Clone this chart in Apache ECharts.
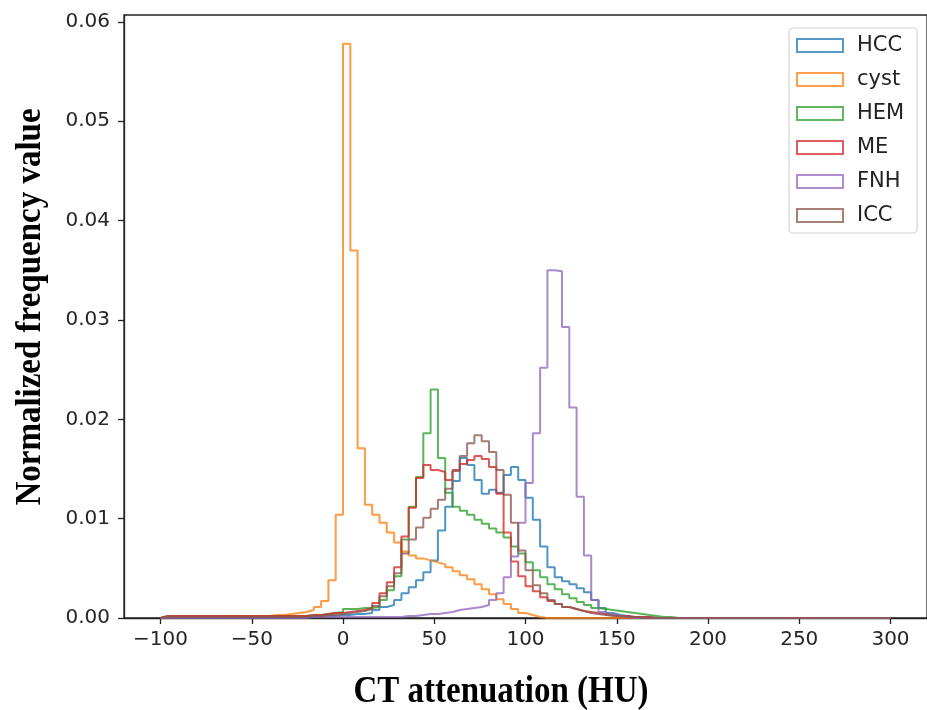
<!DOCTYPE html>
<html>
<head>
<meta charset="utf-8">
<script src="https://cdn.jsdelivr.net/npm/echarts@6/dist/echarts.min.js"></script>
<style>
  html, body { margin: 0; padding: 0; background: #fff; }
  #chart { width: 927px; height: 710px; }
</style>
</head>
<body>
<div id="chart"></div>
<script>
// histogram bins: 100 bins of 4 HU from -100 to 300
const binStart = -100
const binWidth = 4

const seriesNames = ['HCC', 'cyst', 'HEM', 'ME', 'FNH', 'ICC']
const seriesColors = ['#1f77b4', '#ff7f0e', '#2ca02c', '#d62728', '#9467bd', '#8c564b']

const hccValues = [
  0.0001, 0.0001, 0.0001, 0.0001, 0.0001, 0.0001, 0.0001, 0.0001, 0.0001, 0.0001,
  0.0001, 0.0001, 0.0001, 0.0001, 0.0001, 0.0001, 0.0001, 0.0001, 0.0001, 0.0001,
  0.0001, 0.0002, 0.0002, 0.0002, 0.0003, 0.0003, 0.0004, 0.0004, 0.0005, 0.0008,
  0.0011, 0.0013, 0.0018, 0.0025, 0.0031, 0.0038, 0.0046, 0.0058, 0.0088, 0.0112,
  0.0138, 0.0161, 0.0154, 0.0139, 0.0125, 0.0129, 0.0126, 0.0144, 0.0152, 0.0139,
  0.0121, 0.0099, 0.0072, 0.0051, 0.0041, 0.0037, 0.0034, 0.0030, 0.0026, 0.0018,
  0.0010, 0.0005, 0.0003, 0.0002, 0.0001, 0.0001, 0.0001, 0, 0, 0,
  0, 0, 0, 0, 0, 0, 0, 0, 0, 0,
  0, 0, 0, 0, 0, 0, 0, 0, 0, 0,
  0, 0, 0, 0, 0, 0, 0, 0, 0, 0
]
const cystValues = [
  0.0001, 0.0001, 0.0001, 0.0001, 0.0001, 0.0001, 0.0001, 0.0001, 0.0001, 0.0001,
  0.0002, 0.0002, 0.0002, 0.0002, 0.0002, 0.0003, 0.0003, 0.0004, 0.0005, 0.0006,
  0.0008, 0.0011, 0.0017, 0.0038, 0.0104, 0.0578, 0.0370, 0.0171, 0.0114, 0.0104,
  0.0096, 0.0086, 0.0076, 0.0067, 0.0063, 0.0060, 0.0058, 0.0056, 0.0054, 0.0051,
  0.0047, 0.0043, 0.0039, 0.0034, 0.0029, 0.0024, 0.0019, 0.0014, 0.0009, 0.0005,
  0.0003, 0.0001, 0, 0, 0, 0, 0, 0, 0, 0,
  0, 0, 0, 0, 0, 0, 0, 0, 0, 0,
  0, 0, 0, 0, 0, 0, 0, 0, 0, 0,
  0, 0, 0, 0, 0, 0, 0, 0, 0, 0,
  0, 0, 0, 0, 0, 0, 0, 0, 0, 0
]
const hemValues = [
  0.0002, 0.0002, 0.0002, 0.0002, 0.0002, 0.0002, 0.0002, 0.0002, 0.0002, 0.0002,
  0.0002, 0.0002, 0.0002, 0.0002, 0.0002, 0.0002, 0.0002, 0.0002, 0.0002, 0.0002,
  0.0003, 0.0003, 0.0004, 0.0005, 0.0006, 0.0009, 0.0009, 0.0010, 0.0010, 0.0011,
  0.0018, 0.0028, 0.0042, 0.0079, 0.0112, 0.0142, 0.0186, 0.0230, 0.0161, 0.0126,
  0.0112, 0.0108, 0.0104, 0.0099, 0.0095, 0.0090, 0.0086, 0.0081, 0.0072, 0.0065,
  0.0056, 0.0048, 0.0041, 0.0034, 0.0029, 0.0024, 0.0020, 0.0016, 0.0013, 0.0010,
  0.0009, 0.0008, 0.0007, 0.0006, 0.0005, 0.0004, 0.0003, 0.0002, 0.0001, 0.0001,
  0, 0, 0, 0, 0, 0, 0, 0, 0, 0,
  0, 0, 0, 0, 0, 0, 0, 0, 0, 0,
  0, 0, 0, 0, 0, 0, 0, 0, 0, 0
]
const meValues = [
  0.0002, 0.0002, 0.0002, 0.0002, 0.0002, 0.0002, 0.0002, 0.0002, 0.0002, 0.0002,
  0.0002, 0.0002, 0.0002, 0.0002, 0.0002, 0.0002, 0.0002, 0.0002, 0.0002, 0.0002,
  0.0003, 0.0003, 0.0004, 0.0005, 0.0005, 0.0006, 0.0007, 0.0008, 0.0010, 0.0015,
  0.0025, 0.0036, 0.0051, 0.0082, 0.0111, 0.0141, 0.0154, 0.0149, 0.0147, 0.0139,
  0.0149, 0.0155, 0.0159, 0.0163, 0.0160, 0.0152, 0.0125, 0.0086, 0.0057, 0.0042,
  0.0032, 0.0027, 0.0021, 0.0017, 0.0014, 0.0011, 0.0009, 0.0007, 0.0006, 0.0005,
  0.0004, 0.0003, 0.0002, 0.0002, 0.0001, 0.0001, 0.0001, 0, 0, 0,
  0, 0, 0, 0, 0, 0, 0, 0, 0, 0,
  0, 0, 0, 0, 0, 0, 0, 0, 0, 0,
  0, 0, 0, 0, 0, 0, 0, 0, 0, 0
]
const fnhValues = [
  0, 0, 0, 0, 0, 0, 0, 0, 0, 0,
  0, 0, 0, 0, 0, 0, 0, 0, 0, 0,
  0.0001, 0.0001, 0.0001, 0.0001, 0.0001, 0.0001, 0.0001, 0.0001, 0.0001, 0.0001,
  0.0001, 0.0001, 0.0001, 0.0002, 0.0002, 0.0003, 0.0004, 0.0004, 0.0005, 0.0006,
  0.0008, 0.0009, 0.0010, 0.0011, 0.0013, 0.0018, 0.0025, 0.0041, 0.0062, 0.0096,
  0.0136, 0.0186, 0.0252, 0.0350, 0.0349, 0.0293, 0.0212, 0.0122, 0.0063, 0.0018,
  0.0006, 0.0003, 0.0002, 0.0001, 0, 0, 0, 0, 0, 0,
  0, 0, 0, 0, 0, 0, 0, 0, 0, 0,
  0, 0, 0, 0, 0, 0, 0, 0, 0, 0,
  0, 0, 0, 0, 0, 0, 0, 0, 0, 0
]
const iccValues = [
  0.0001, 0.0001, 0.0001, 0.0001, 0.0001, 0.0001, 0.0001, 0.0001, 0.0001, 0.0001,
  0.0001, 0.0001, 0.0001, 0.0001, 0.0001, 0.0001, 0.0001, 0.0001, 0.0001, 0.0001,
  0.0002, 0.0002, 0.0003, 0.0003, 0.0004, 0.0005, 0.0006, 0.0007, 0.0009, 0.0012,
  0.0022, 0.0032, 0.0045, 0.0065, 0.0079, 0.0091, 0.0101, 0.0110, 0.0119, 0.0130,
  0.0148, 0.0163, 0.0176, 0.0184, 0.0178, 0.0167, 0.0149, 0.0124, 0.0096, 0.0068,
  0.0048, 0.0033, 0.0025, 0.0018, 0.0014, 0.0011, 0.0009, 0.0007, 0.0005, 0.0004,
  0.0003, 0.0002, 0.0002, 0.0001, 0.0001, 0, 0, 0, 0, 0,
  0, 0, 0, 0, 0, 0, 0, 0, 0, 0,
  0, 0, 0, 0, 0, 0, 0, 0, 0, 0,
  0, 0, 0, 0, 0, 0, 0, 0, 0, 0
]
const allValues = [hccValues, cystValues, hemValues, meValues, fnhValues, iccValues]

const xTicks = [-100, -50, 0, 50, 100, 150, 200, 250, 300]
const yTicks = [0, 0.01, 0.02, 0.03, 0.04, 0.05, 0.06]

// outline of a step histogram: [left edge, value] for each bin, closed down to 0 at both ends
function stepData(values) {
  const pts = [[binStart, 0]]
  values.forEach((v, i) => {
    pts.push([binStart + i * binWidth, v])
  })
  pts.push([binStart + values.length * binWidth, 0])
  return pts
}

const tickFont = { fontFamily: 'DejaVu Sans', fontSize: 20, color: '#262626' }

const option = {
  animation: false,
  backgroundColor: '#fff',
  grid: {
    left: 124,
    right: -5,
    top: 15,
    bottom: 92,
    show: true,
    borderColor: '#222',
    borderWidth: 1.3,
    backgroundColor: 'transparent',
  },
  legend: {
    orient: 'vertical',
    left: 789,
    top: 28,
    icon: 'rect',
    itemWidth: 46,
    itemHeight: 13,
    itemGap: 13,
    padding: [7, 13, 7, 7],
    backgroundColor: '#fff',
    borderColor: '#d4d4d4',
    borderWidth: 1.2,
    borderRadius: 4,
    textStyle: {
      fontFamily: 'DejaVu Sans',
      fontSize: 21,
      color: '#222',
      lineHeight: 21,
      padding: [0, 0, 0, 9],
    },
    data: seriesNames.map((n, i) => ({
      name: n,
      itemStyle: { color: 'transparent', borderColor: seriesColors[i], borderWidth: 2, opacity: 0.75 },
    })),
  },
  xAxis: {
    type: 'value',
    min: -120,
    max: 320,
    splitLine: { show: false },
    axisLine: { onZero: false, lineStyle: { color: '#222', width: 1.3 } },
    axisTick: { customValues: xTicks, length: 6, lineStyle: { color: '#222', width: 1.3 } },
    axisLabel: {
      customValues: xTicks,
      margin: 12,
      ...tickFont,
      formatter: (v) => (v < 0 ? '\u2212' + Math.abs(v) : String(v)),
    },
  },
  yAxis: {
    type: 'value',
    min: 0,
    max: 0.0607,
    splitLine: { show: false },
    axisLine: { onZero: false, lineStyle: { color: '#222', width: 1.3 } },
    axisTick: { customValues: yTicks, length: 6, lineStyle: { color: '#222', width: 1.3 } },
    axisLabel: {
      customValues: yTicks,
      margin: 14,
      ...tickFont,
      formatter: (v) => v.toFixed(2),
    },
  },
  graphic: [
    {
      type: 'text',
      x: 31,
      y: 307,
      rotation: Math.PI / 2,
      scaleY: 1.1,
      style: {
        text: 'Normalized frequency value',
        font: 'bold 33px "Liberation Serif"',
        fill: '#000',
        align: 'center',
        verticalAlign: 'middle',
      },
    },
    {
      type: 'text',
      x: 501,
      y: 692,
      scaleY: 1.15,
      style: {
        text: 'CT attenuation (HU)',
        font: 'bold 33px "Liberation Serif"',
        fill: '#000',
        align: 'center',
        verticalAlign: 'middle',
      },
    },
  ],
  series: seriesNames.map((n, i) => ({
    name: n,
    type: 'line',
    step: 'end',
    showSymbol: false,
    symbol: 'none',
    silent: true,
    color: seriesColors[i],
    lineStyle: { width: 2, opacity: 0.78 },
    data: stepData(allValues[i]),
  })),
}

const myChart = echarts.init(document.getElementById('chart'))
myChart.setOption(option, true)
</script>
</body>
</html>
